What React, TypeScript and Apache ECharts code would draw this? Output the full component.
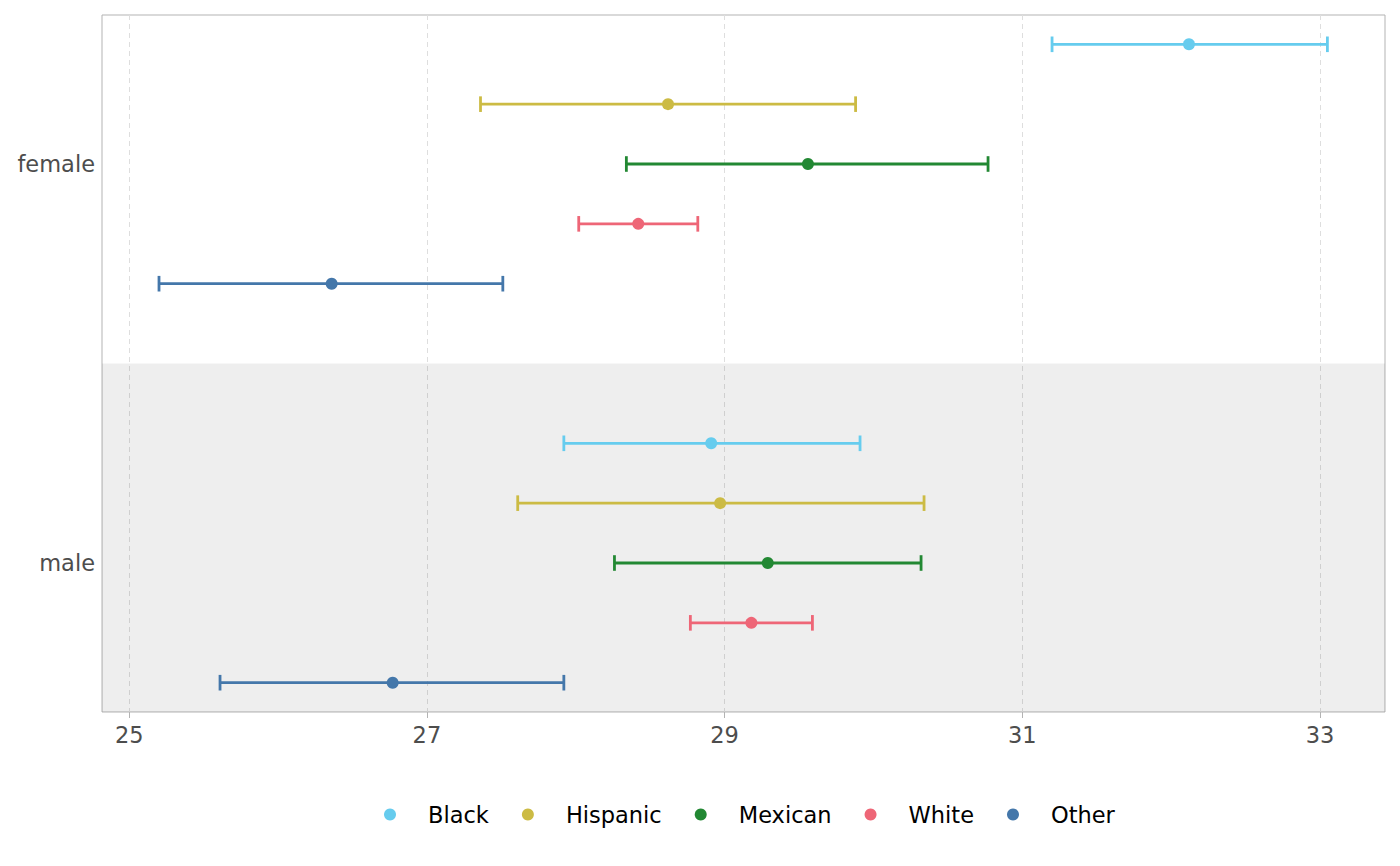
import React, { useEffect, useRef } from "react";
import * as echarts from "echarts";

const ethnicities = ["Black", "Hispanic", "Mexican", "White", "Other"];
const colors = ["#66CCEE", "#CCBB44", "#228833", "#EE6677", "#4477AA"];
const sexes = ["female", "male"];
const xTicks = [25, 27, 29, 31, 33];

const femaleMean = [32.12, 28.62, 29.56, 28.42, 26.36];
const femaleLow = [31.2, 27.36, 28.34, 28.02, 25.2];
const femaleHigh = [33.05, 29.88, 30.77, 28.82, 27.51];

const maleMean = [28.91, 28.97, 29.29, 29.18, 26.77];
const maleLow = [27.92, 27.61, 28.26, 28.77, 25.61];
const maleHigh = [29.91, 30.34, 30.32, 29.59, 27.92];

const FONT = "DejaVu Sans";

export default function App() {
  const ref = useRef<HTMLDivElement>(null);

  useEffect(() => {
    if (!ref.current) return;
    const chart = echarts.init(ref.current, undefined, { renderer: "svg" });

    const dodge = 0.15;
    const xMin = 24.817;
    const xMax = 33.437;
    const yMin = 1 - 149 / 399;
    const yMax = 2 + 149 / 399;

    const groups = [
      { mean: femaleMean, low: femaleLow, high: femaleHigh },
      { mean: maleMean, low: maleLow, high: maleHigh },
    ];

    const series: any[] = [];

    // shaded band for the "male" row
    series.push({
      name: "band",
      type: "scatter",
      data: [],
      silent: true,
      z: 1,
      markArea: {
        silent: true,
        itemStyle: { color: "rgba(0,0,0,0.067)", borderWidth: 0 },
        data: [[{ coord: [xMin, 1.5] }, { coord: [xMax, yMax] }]],
      },
    });

    ethnicities.forEach((eth, i) => {
      const pts: number[][] = [];
      const bars: number[][] = [];
      groups.forEach((g, gi) => {
        const y = gi + 1 + (i - 2) * dodge;
        pts.push([g.mean[i], y]);
        bars.push([g.low[i], g.high[i], y]);
      });
      series.push({
        name: eth,
        type: "scatter",
        data: pts,
        symbol: "circle",
        symbolSize: 12,
        itemStyle: { color: colors[i], opacity: 1 },
        z: 4,
        silent: true,
      });
      series.push({
        name: eth,
        type: "custom",
        data: bars,
        encode: { x: [0, 1], y: 2 },
        z: 3,
        silent: true,
        itemStyle: { color: colors[i] },
        renderItem: (params: any, api: any) => {
          const lo = api.coord([api.value(0), api.value(2)]);
          const hi = api.coord([api.value(1), api.value(2)]);
          const h = 7.8;
          const style = { stroke: colors[i], lineWidth: 2.8, fill: "none" };
          return {
            type: "group",
            children: [
              { type: "line", shape: { x1: lo[0], y1: lo[1], x2: hi[0], y2: hi[1] }, style },
              { type: "line", shape: { x1: lo[0], y1: lo[1] - h, x2: lo[0], y2: lo[1] + h }, style },
              { type: "line", shape: { x1: hi[0], y1: hi[1] - h, x2: hi[0], y2: hi[1] + h }, style },
            ],
          };
        },
      });
    });

    chart.setOption({
      animation: false,
      backgroundColor: "#FFFFFF",
      textStyle: { fontFamily: FONT },
      grid: {
        left: 102,
        right: 15,
        top: 15,
        bottom: 154,
        show: true,
        borderColor: "#B3B3B3",
        borderWidth: 1,
        backgroundColor: "transparent",
        containLabel: false,
      },
      xAxis: {
        type: "value",
        min: xMin,
        max: xMax,
        axisLine: { show: false },
        axisTick: {
          show: true,
          length: 6,
          customValues: xTicks,
          lineStyle: { color: "#B3B3B3", width: 1 },
        },
        axisLabel: {
          customValues: xTicks,
          margin: 11,
          fontSize: 22.5,
          color: "#4D4D4D",
          fontFamily: FONT,
        },
        splitLine: {
          show: true,
          lineStyle: { color: "#DEDEDE", width: 1, type: [5, 4] },
        },
      },
      yAxis: {
        type: "value",
        inverse: true,
        min: yMin,
        max: yMax,
        axisLine: { show: false },
        axisTick: { show: false, customValues: [1, 2] },
        splitLine: { show: false },
        axisLabel: {
          customValues: [1, 2],
          margin: 7,
          fontSize: 22.5,
          color: "#4D4D4D",
          fontFamily: FONT,
          formatter: (v: number) => sexes[Math.round(v) - 1] ?? "",
        },
      },
      legend: {
        data: ethnicities.map((e) => ({ name: e, icon: "circle" })),
        left: 379,
        top: 798,
        orient: "horizontal",
        itemWidth: 66,
        itemHeight: 12,
        itemGap: 33,
        selectedMode: false,
        textStyle: { fontSize: 22.5, color: "#000000", fontFamily: FONT },
      },
      series,
    });

    return () => chart.dispose();
  }, []);

  return (
    <div
      ref={ref}
      style={{ position: "fixed", left: 0, top: 0, width: 1400, height: 866 }}
    />
  );
}
